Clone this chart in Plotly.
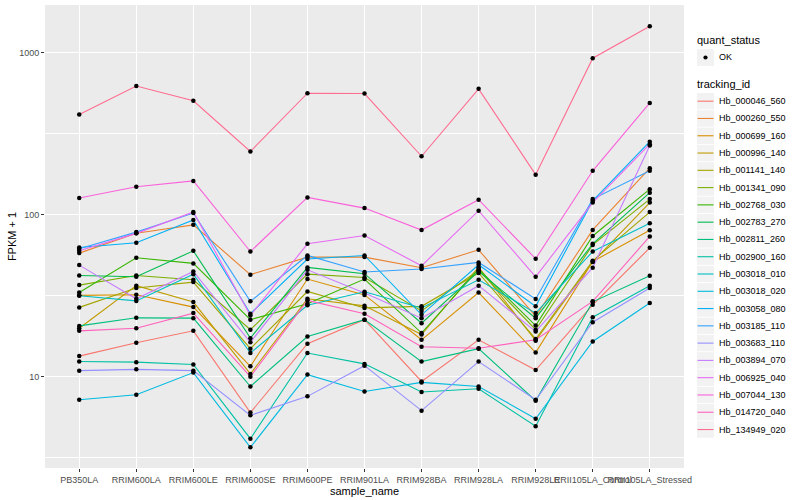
import plotly.graph_objects as go

samples = ["PB350LA", "RRIM600LA", "RRIM600LE", "RRIM600SE", "RRIM600PE", "RRIM901LA",
           "RRIM928BA", "RRIM928LA", "RRIM928LE", "RRII105LA_Control", "RRII105LA_Stressed"]

tracking_ids = ["Hb_000046_560", "Hb_000260_550", "Hb_000699_160", "Hb_000996_140", "Hb_001141_140",
                "Hb_001341_090", "Hb_002768_030", "Hb_002783_270", "Hb_002811_260", "Hb_002900_160",
                "Hb_003018_010", "Hb_003018_020", "Hb_003058_080", "Hb_003185_110", "Hb_003683_110",
                "Hb_003894_070", "Hb_006925_040", "Hb_007044_130", "Hb_014720_040", "Hb_134949_020"]

colors = ["#F8766D", "#EA8331", "#D89000", "#C09B00", "#A3A500", "#7CAE00", "#39B600", "#00BB4E",
          "#00BF7D", "#00C1A3", "#00BFC4", "#00BAE0", "#00B0F6", "#35A2FF", "#9590FF", "#C77CFF",
          "#E76BF3", "#FA62DB", "#FF62BC", "#FF6C91"]

# FPKM + 1 per sample (same order as samples)
hb_000046_560 = [13.4, 16.2, 19.2, 6.0, 16.0, 22.5, 9.35, 16.9, 11.0, 27.8, 62.5]
hb_000260_550 = [58.0, 77.0, 86.7, 42.7, 54.8, 54.8, 47.1, 60.8, 23.6, 80.7, 194]
hb_000699_160 = [31.8, 32.1, 26.9, 11.6, 40.1, 32.0, 16.9, 33.1, 14.1, 51.5, 80.3]
hb_000996_140 = [19.9, 36.5, 28.9, 10.4, 30.3, 27.4, 18.2, 47.5, 16.7, 51.1, 119]
hb_001141_140 = [26.8, 35.3, 38.4, 14.9, 33.6, 26.6, 27.2, 43.7, 17.1, 52.0, 104]
hb_001341_090 = [36.8, 42.2, 39.7, 19.5, 43.0, 41.0, 25.5, 45.5, 19.5, 65.2, 125]
hb_002768_030 = [33.1, 54.3, 50.1, 22.5, 28.2, 40.1, 18.6, 46.2, 20.7, 74.0, 144]
hb_002783_270 = [42.2, 41.4, 59.9, 17.3, 47.3, 43.3, 21.4, 44.7, 23.0, 66.2, 137]
hb_002811_260 = [20.6, 23.1, 23.0, 8.7, 17.7, 22.5, 12.4, 14.9, 7.1, 29.0, 42.0]
hb_002900_160 = [12.4, 12.3, 11.9, 4.14, 14.0, 12.0, 8.04, 8.43, 4.94, 23.3, 36.5]
hb_003018_010 = [31.6, 29.4, 43.0, 14.0, 27.6, 33.5, 26.6, 39.7, 24.7, 59.3, 88.7]
hb_003018_020 = [7.2, 7.74, 10.6, 3.66, 10.3, 8.1, 9.22, 8.7, 5.5, 16.5, 28.5]
hb_003058_080 = [62.8, 67.2, 93.0, 24.5, 53.3, 56.1, 24.1, 49.1, 27.2, 122, 283]
hb_003185_110 = [61.7, 78.2, 102.5, 29.2, 56.1, 44.3, 46.3, 50.8, 30.2, 125, 187]
hb_003683_110 = [10.9, 11.1, 10.9, 5.77, 7.56, 11.7, 6.17, 12.4, 7.2, 21.7, 35.3]
hb_003894_070 = [48.9, 30.3, 44.7, 16.3, 45.7, 32.9, 23.0, 36.5, 19.0, 47.1, 268]
hb_006925_040 = [59.9, 76.8, 104, 23.9, 66.2, 74.5, 48.4, 106, 41.4, 119, 273]
hb_007044_130 = [127, 149, 162, 59.3, 128, 110, 80.5, 124, 53.5, 187, 491]
hb_014720_040 = [19.2, 19.9, 24.7, 10.0, 29.6, 24.5, 15.3, 15.0, 16.9, 29.2, 73.5]
hb_134949_020 = [416, 625, 506, 246, 564, 561, 230, 600, 177, 927, 1462]

series = [hb_000046_560, hb_000260_550, hb_000699_160, hb_000996_140, hb_001141_140,
          hb_001341_090, hb_002768_030, hb_002783_270, hb_002811_260, hb_002900_160,
          hb_003018_010, hb_003018_020, hb_003058_080, hb_003185_110, hb_003683_110,
          hb_003894_070, hb_006925_040, hb_007044_130, hb_014720_040, hb_134949_020]

quant_status = ["OK"]
y_ticks = [10, 100, 1000]
y_tick_labels = ["10", "100", "1000"]

FONT = "Liberation Sans, Arial, sans-serif"
W, H = 800, 500
ML, MR, MT, MB = 45, 116, 5, 32
PW, PH = W - ML - MR, H - MT - MB


def px(xp):
    return (xp - ML) / PW


def py(yp):
    return (H - MB - yp) / PH


fig = go.Figure()
for tid, col, vals in zip(tracking_ids, colors, series):
    fig.add_trace(go.Scatter(x=samples, y=vals, mode="lines", name=tid,
                             line=dict(color=col, width=1.1), showlegend=False))

all_x = [s for vals in series for s in samples]
all_y = [v for vals in series for v in vals]
fig.add_trace(go.Scatter(x=all_x, y=all_y, mode="markers", name=quant_status[0],
                         marker=dict(color="black", size=4.5), showlegend=False))

# ---- legend (ggplot style), drawn in paper coordinates ----
shapes = []
annots = []
KX0, KX1 = 697, 714          # key box
TX = 717                     # label left edge
annots.append(dict(x=px(695), y=py(40.5), xref="paper", yref="paper", text="quant_status",
                   showarrow=False, xanchor="left", yanchor="middle",
                   font=dict(size=11, color="black", family=FONT)))
ok_y = 57.5
shapes.append(dict(type="rect", xref="paper", yref="paper", x0=px(KX0), x1=px(KX1),
                   y0=py(ok_y - 8.4), y1=py(ok_y + 8.4), fillcolor="#F2F2F2", line=dict(width=0),
                   layer="below"))
shapes.append(dict(type="circle", xref="paper", yref="paper",
                   x0=px((KX0 + KX1) / 2 - 2.1), x1=px((KX0 + KX1) / 2 + 2.1),
                   y0=py(ok_y - 2.1), y1=py(ok_y + 2.1), fillcolor="black", line=dict(width=0)))
annots.append(dict(x=px(TX), y=py(ok_y), xref="paper", yref="paper", text=quant_status[0],
                   showarrow=False, xanchor="left", yanchor="middle",
                   font=dict(size=9, color="black", family=FONT)))

annots.append(dict(x=px(695), y=py(84.5), xref="paper", yref="paper", text="tracking_id",
                   showarrow=False, xanchor="left", yanchor="middle",
                   font=dict(size=11, color="black", family=FONT)))
ITEM0, STEP = 101.2, 17.28
for i, (tid, col) in enumerate(zip(tracking_ids, colors)):
    cy = ITEM0 + STEP * i
    shapes.append(dict(type="rect", xref="paper", yref="paper", x0=px(KX0), x1=px(KX1),
                       y0=py(cy - 8.2), y1=py(cy + 8.2), fillcolor="#F2F2F2",
                       line=dict(width=0), layer="below"))
    shapes.append(dict(type="line", xref="paper", yref="paper", x0=px(KX0 + 0.5), x1=px(KX1 - 0.5),
                       y0=py(cy), y1=py(cy), line=dict(color=col, width=1.1)))
    annots.append(dict(x=px(TX), y=py(cy), xref="paper", yref="paper", text=tid,
                       showarrow=False, xanchor="left", yanchor="middle",
                       font=dict(size=9, color="black", family=FONT)))

fig.update_layout(
    width=W, height=H,
    margin=dict(l=ML, r=MR, t=MT, b=MB, autoexpand=False),
    paper_bgcolor="white", plot_bgcolor="#EBEBEB",
    font=dict(family=FONT, size=9, color="#4D4D4D"),
    showlegend=False,
    shapes=shapes, annotations=annots,
)
fig.update_xaxes(type="category", categoryorder="array", categoryarray=samples,
                 range=[-0.6, len(samples) - 0.4], tickangle=0, automargin=False,
                 showgrid=True, gridcolor="white", gridwidth=1.1,
                 ticks="outside", ticklen=3, tickcolor="#333333",
                 tickfont=dict(size=9, color="#4D4D4D"),
                 title=dict(text="sample_name", font=dict(size=11, color="black"), standoff=0),
                 zeroline=False, showline=False)
fig.update_yaxes(type="log", range=[0.436, 3.296], automargin=False,
                 tickmode="array", tickvals=y_ticks, ticktext=y_tick_labels,
                 showgrid=True, gridcolor="white", gridwidth=1.1,
                 minor=dict(tickmode="array", tickvals=[10 ** 0.5, 10 ** 1.5, 10 ** 2.5, 10 ** 3.5],
                            showgrid=True, gridcolor="white", gridwidth=0.5, ticklen=0),
                 ticks="outside", ticklen=3, tickcolor="#333333",
                 tickfont=dict(size=9, color="#4D4D4D"),
                 title=dict(text="FPKM + 1", font=dict(size=11, color="black"), standoff=0),
                 zeroline=False, showline=False)

fig.write_html("out.html", config={"displayModeBar": False},
               post_script="document.body.style.margin='0';document.body.style.overflow='hidden';")
